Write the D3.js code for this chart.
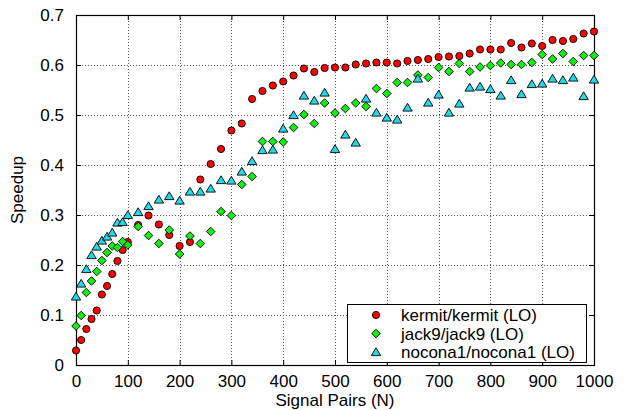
<!DOCTYPE html>
<html>
<head>
<meta charset="utf-8">
<script src="https://cdn.jsdelivr.net/npm/d3@7"></script>
<style>
  body { margin: 0; background: #fff; }
  text { font-family: "Liberation Sans", Arial, Helvetica, sans-serif; }
</style>
</head>
<body>
<div id="chart"></div>
<script>
// signal pair counts: every 10 up to 100, then every 20
var pairs = [0, 10, 20, 30, 40, 50, 60, 70, 80, 90, 100,
    120, 140, 160, 180, 200, 220, 240, 260, 280, 300, 320, 340, 360, 380, 400,
    420, 440, 460, 480, 500, 520, 540, 560, 580, 600, 620, 640, 660, 680, 700,
    720, 740, 760, 780, 800, 820, 840, 860, 880, 900, 920, 940, 960, 980, 1000];

var kermit = [0.029, 0.050, 0.072, 0.092, 0.109, 0.141, 0.158, 0.182, 0.208, 0.230, 0.246,
    0.280, 0.299, 0.281, 0.260, 0.238, 0.246, 0.371, 0.402, 0.432, 0.469, 0.483, 0.532, 0.548, 0.559, 0.567,
    0.579, 0.593, 0.586, 0.594, 0.595, 0.595, 0.601, 0.603, 0.605, 0.605, 0.603, 0.608, 0.610, 0.612, 0.616,
    0.617, 0.618, 0.623, 0.631, 0.631, 0.631, 0.644, 0.635, 0.643, 0.638, 0.650, 0.648, 0.652, 0.663, 0.667];

var jack9 = [0.078, 0.099, 0.145, 0.168, 0.187, 0.209, 0.225, 0.238, 0.235, 0.247, 0.240,
    0.277, 0.259, 0.243, 0.270, 0.222, 0.258, 0.243, 0.267, 0.307, 0.299, 0.361, 0.377, 0.447, 0.447, 0.446,
    0.475, 0.501, 0.483, 0.524, 0.504, 0.513, 0.524, 0.517, 0.553, 0.543, 0.565, 0.565, 0.580, 0.575, 0.595,
    0.587, 0.603, 0.587, 0.596, 0.599, 0.604, 0.601, 0.601, 0.605, 0.621, 0.612, 0.623, 0.607, 0.619, 0.619];

var nocona1 = [0.137, 0.163, 0.192, 0.220, 0.237, 0.249, 0.257, 0.265, 0.285, 0.286, 0.300,
    0.306, 0.318, 0.331, 0.338, 0.329, 0.347, 0.347, 0.353, 0.370, 0.369, 0.387, 0.408, 0.430, 0.431, 0.473,
    0.500, 0.539, 0.529, 0.545, 0.432, 0.461, 0.445, 0.533, 0.505, 0.495, 0.491, 0.515, 0.573, 0.525, 0.541,
    0.505, 0.523, 0.555, 0.557, 0.552, 0.539, 0.570, 0.542, 0.562, 0.563, 0.573, 0.570, 0.575, 0.538, 0.571];

var seriesNames = ["kermit/kermit (LO)", "jack9/jack9 (LO)", "nocona1/nocona1 (LO)"];
var xTicks = [0, 100, 200, 300, 400, 500, 600, 700, 800, 900, 1000];
var yTicks = [0, 0.1, 0.2, 0.3, 0.4, 0.5, 0.6, 0.7];

var width = 627,
    height = 410;

// plot box edges (note: "top" is reserved on window, so prefix these)
var plotLeft = 76, plotRight = 594, plotTop = 15, plotBottom = 365;

var fontSize = 17,
    markerStroke = "black",
    gridColor = "#555";

var series = [
    { name: seriesNames[0], values: kermit, color: "#ff0000", shape: "circle" },
    { name: seriesNames[1], values: jack9, color: "#11ee11", shape: "diamond" },
    { name: seriesNames[2], values: nocona1, color: "#22d8e8", shape: "triangle" }
];

var x = d3.scaleLinear().domain([0, 1000]).range([plotLeft, plotRight]);
var y = d3.scaleLinear().domain([0, 0.7]).range([plotBottom, plotTop]);

var svg = d3.select("#chart").append("svg")
    .attr("width", width)
    .attr("height", height);

// dotted grid
var gridG = svg.append("g").attr("id", "grid");
gridG.selectAll("line.vgrid")
    .data(xTicks.slice(1, -1))
    .enter().append("line")
    .attr("class", "vgrid")
    .attr("x1", function(d) { return Math.round(x(d)) + 0.5; })
    .attr("x2", function(d) { return Math.round(x(d)) + 0.5; })
    .attr("y1", plotTop)
    .attr("y2", plotBottom)
    .style("stroke", gridColor)
    .style("stroke-dasharray", "1,2");
gridG.selectAll("line.hgrid")
    .data(yTicks.slice(1, -1))
    .enter().append("line")
    .attr("class", "hgrid")
    .attr("x1", plotLeft)
    .attr("x2", plotRight)
    .attr("y1", function(d) { return Math.round(y(d)) + 0.5; })
    .attr("y2", function(d) { return Math.round(y(d)) + 0.5; })
    .style("stroke", gridColor)
    .style("stroke-dasharray", "1,2");

// axes with inward ticks on all four sides
var xAxisB = d3.axisBottom(x).tickValues(xTicks).tickSize(-5).tickPadding(10).tickFormat(d3.format("d"));
var xAxisT = d3.axisTop(x).tickValues(xTicks).tickSize(-5).tickFormat("");
var yAxisL = d3.axisLeft(y).tickValues(yTicks).tickSize(-5).tickPadding(12)
    .tickFormat(function(d) { return d === 0 ? "0" : d3.format(".1f")(d); });
var yAxisR = d3.axisRight(y).tickValues(yTicks).tickSize(-5).tickFormat("");

function styleAxis(g) {
    g.select(".domain").remove();
    g.selectAll("line").style("stroke", "black");
    g.selectAll("text")
        .style("font-size", fontSize + "px")
        .style("fill", "black");
}

svg.append("g").attr("transform", "translate(0," + plotBottom + ")").call(xAxisB).call(styleAxis);
svg.append("g").attr("transform", "translate(0," + plotTop + ")").call(xAxisT).call(styleAxis);
svg.append("g").attr("transform", "translate(" + plotLeft + ",0)").call(yAxisL).call(styleAxis);
svg.append("g").attr("transform", "translate(" + plotRight + ",0)").call(yAxisR).call(styleAxis);

svg.append("rect")
    .attr("x", plotLeft + 0.5)
    .attr("y", plotTop + 0.5)
    .attr("width", plotRight - plotLeft)
    .attr("height", plotBottom - plotTop)
    .style("fill", "none")
    .style("stroke", "black")
    .style("stroke-width", 1.2);

// marker shapes, centred on 0,0
function markerPath(shape) {
    if (shape === "circle") {
        return "M 3.6 0 A 3.6 3.6 0 1 1 -3.6 0 A 3.6 3.6 0 1 1 3.6 0 Z";
    } else if (shape === "diamond") {
        return "M 0 -4.3 L 4.3 0 L 0 4.3 L -4.3 0 Z";
    }
    return "M 0 -4.2 L 4.7 3.6 L -4.7 3.6 Z";
}

var pointsG = svg.append("g").attr("id", "points");
series.forEach(function(s) {
    pointsG.append("g").selectAll("path")
        .data(s.values)
        .enter().append("path")
        .attr("transform", function(d, i) { return "translate(" + x(pairs[i]) + "," + y(d) + ")"; })
        .attr("d", markerPath(s.shape))
        .style("fill", s.color)
        .style("stroke", markerStroke)
        .style("stroke-width", 0.9);
});

// legend
var legendG = svg.append("g").attr("id", "legend");
legendG.append("rect")
    .attr("x", 347.5)
    .attr("y", 304.5)
    .attr("width", 239)
    .attr("height", 58)
    .style("fill", "white")
    .style("stroke", "black");

var rows = legendG.selectAll("g.row")
    .data(series)
    .enter().append("g")
    .attr("class", "row")
    .attr("transform", function(d, i) { return "translate(376," + (315 + i * 18.5) + ")"; });
rows.append("path")
    .attr("d", function(d) { return markerPath(d.shape); })
    .style("fill", function(d) { return d.color; })
    .style("stroke", markerStroke)
    .style("stroke-width", 0.9);
rows.append("text")
    .attr("x", 25)
    .attr("y", 6)
    .style("font-size", fontSize + "px")
    .text(function(d) { return d.name; });

// axis titles
svg.append("text")
    .attr("x", (plotLeft + plotRight) / 2)
    .attr("y", 406)
    .attr("text-anchor", "middle")
    .style("font-size", fontSize + "px")
    .text("Signal Pairs (N)");

svg.append("text")
    .attr("transform", "translate(23," + ((plotTop + plotBottom) / 2) + ") rotate(-90)")
    .attr("text-anchor", "middle")
    .style("font-size", fontSize + "px")
    .text("Speedup");
</script>
</body>
</html>
